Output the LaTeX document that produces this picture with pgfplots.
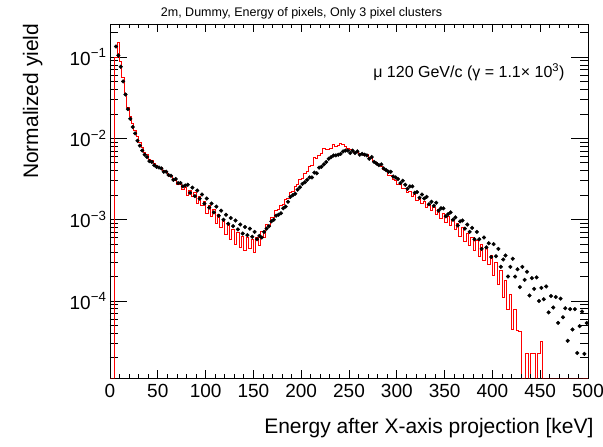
\documentclass[border=0pt]{standalone}
\usepackage{fontspec}
\setmainfont{Liberation Sans}
\usepackage{pgfplots}
\pgfplotsset{compat=1.18}
\begin{document}
\begin{tikzpicture}
\path[use as bounding box] (-110bp,-69bp) rectangle (493bp,378bp);
% axis with data and y ticks
\begin{axis}[
  at={(0,0)}, anchor=south west,
  scale only axis, width=478bp, height=354bp,
  xmin=0, xmax=500, ymode=log, ymin=1.13e-5, ymax=0.255,
  xtick=\empty,
  ytick={1e-4,1e-3,1e-2,1e-1},
  yticklabels={10\textsuperscript{−4},10\textsuperscript{−3},10\textsuperscript{−2},10\textsuperscript{−1}},
  minor ytick={2e-5,3e-5,4e-5,5e-5,6e-5,7e-5,8e-5,9e-5,2e-4,3e-4,4e-4,5e-4,6e-4,7e-4,8e-4,9e-4,2e-3,3e-3,4e-3,5e-3,6e-3,7e-3,8e-3,9e-3,2e-2,3e-2,4e-2,5e-2,6e-2,7e-2,8e-2,9e-2,0.2},
  major tick length=17bp, minor tick length=8bp,
  tick style={black, line width=0.8bp},
  axis line style={line width=0.8bp},
  yticklabel style={font=\fontsize{19bp}{22bp}\selectfont},
  clip mode=individual,
]
\addplot[red, line width=0.9bp, const plot mark left] coordinates {
(0,1.13e-5) (2.5,1.13e-5) (5,0.100) (7.5,0.151) (10,0.0891) (12.5,0.0562) (15,0.0355) (17.5,0.0240) (20,0.0186) (22.5,0.0151)
(25,0.0126) (27.5,0.0105) (30,0.00891) (32.5,0.00776) (35,0.00676) (37.5,0.00631) (40,0.00550) (42.5,0.00537) (45,0.00490) (47.5,0.00468)
(50,0.00437) (52.5,0.00437) (55,0.00398) (57.5,0.00389) (60,0.00355) (62.5,0.00339) (65,0.00309) (67.5,0.00302) (70,0.00269) (72.5,0.00282)
(75,0.00234) (77.5,0.00251) (80,0.00200) (82.5,0.00229) (85,0.00191) (87.5,0.00219) (90,0.00158) (92.5,0.00191) (95,0.00148) (97.5,0.00170)
(100,0.00120) (102.5,0.00151) (105,0.00110) (107.5,0.00132) (110,0.000891) (112.5,0.00115) (115,0.000794) (117.5,0.00100) (120,0.000661) (122.5,0.000871)
(125,0.000575) (127.5,0.000759) (130,0.000501) (132.5,0.000692) (135,0.000457) (137.5,0.000631) (140,0.000417) (142.5,0.000603) (145,0.000437) (147.5,0.000575)
(150,0.000398) (152.5,0.000603) (155,0.000479) (157.5,0.000708) (160,0.000603) (162.5,0.000871) (165,0.000851) (167.5,0.00107) (170,0.00107) (172.5,0.00129)
(175,0.00132) (177.5,0.00151) (180,0.00155) (182.5,0.00178) (185,0.00182) (187.5,0.00214) (190,0.00224) (192.5,0.00257) (195,0.00269) (197.5,0.00309)
(200,0.00324) (202.5,0.00372) (205,0.00389) (207.5,0.00447) (210,0.00468) (212.5,0.00575) (215,0.00562) (217.5,0.00617) (220,0.00661) (222.5,0.00759)
(225,0.00724) (227.5,0.00741) (230,0.00759) (232.5,0.00851) (235,0.00794) (237.5,0.00813) (240,0.00871) (242.5,0.00832) (245,0.00794) (247.5,0.00759)
(250,0.00724) (252.5,0.00708) (255,0.00676) (257.5,0.00692) (260,0.00646) (262.5,0.00661) (265,0.00617) (267.5,0.00631) (270,0.00575) (272.5,0.00575)
(275,0.00525) (277.5,0.00501) (280,0.00468) (282.5,0.00457) (285,0.00417) (287.5,0.00398) (290,0.00355) (292.5,0.00347) (295,0.00309) (297.5,0.00302)
(300,0.00269) (302.5,0.00269) (305,0.00240) (307.5,0.00245) (310,0.00219) (312.5,0.00224) (315,0.00195) (317.5,0.00204) (320,0.00174) (322.5,0.00182)
(325,0.00158) (327.5,0.00166) (330,0.00141) (332.5,0.00155) (335,0.00129) (337.5,0.00141) (340,0.00117) (342.5,0.00132) (345,0.00105) (347.5,0.00120)
(350,0.000933) (352.5,0.00110) (355,0.000851) (357.5,0.00100) (360,0.000759) (362.5,0.000891) (365,0.000631) (367.5,0.000794) (370,0.000537) (372.5,0.000676)
(375,0.000479) (377.5,0.000603) (380,0.000417) (382.5,0.000550) (385,0.000355) (387.5,0.000501) (390,0.000316) (392.5,0.000437) (395,0.000282) (397.5,0.000363)
(400,0.000209) (402.5,0.000302) (405,0.000158) (407.5,0.000240) (410,0.000112) (412.5,0.000178) (415,0.0000794) (417.5,0.000120) (420,0.0000447) (422.5,0.0000794)
(425,0.0000437) (427.5,0.0000427) (430,1.13e-5) (432.5,1.13e-5) (435,0.0000224) (437.5,1.13e-5) (440,0.0000224) (442.5,0.0000224) (445,1.13e-5) (447.5,0.0000224)
(450,0.0000316) (452.5,1.13e-5) (455,1.13e-5) (460,1.13e-5) (470,1.13e-5) (480,1.13e-5) (490,1.13e-5) (500,1.13e-5)
};
\addplot[only marks, mark=*, mark size=1.85bp, black] coordinates {
(6.25,0.135) (8.75,0.105) (11.25,0.0759) (13.75,0.0501) (16.25,0.0347) (18.75,0.0229) (21.25,0.0174) (23.75,0.0138) (26.25,0.0115) (28.75,0.00933)
(31.25,0.00813) (33.75,0.00708) (36.25,0.00631) (38.75,0.00589) (41.25,0.00525) (43.75,0.00513) (46.25,0.00468) (48.75,0.00447) (51.25,0.00437) (53.75,0.00427)
(56.25,0.00389) (58.75,0.00389) (61.25,0.00355) (63.75,0.00347) (66.25,0.00309) (68.75,0.00316) (71.25,0.00282) (73.75,0.00282) (76.25,0.00257) (78.75,0.00263)
(81.25,0.00269) (83.75,0.00214) (86.25,0.00248) (88.75,0.00195) (91.25,0.00229) (93.75,0.00182) (96.25,0.00204) (98.75,0.00158) (101.25,0.00182) (103.75,0.00141)
(106.25,0.00158) (108.75,0.00123) (111.25,0.00145) (113.75,0.00112) (116.25,0.00129) (118.75,0.00100) (121.25,0.00115) (123.75,0.000891) (126.25,0.00105) (128.75,0.000832)
(131.25,0.000977) (133.75,0.000759) (136.25,0.000871) (138.75,0.000676) (141.25,0.000813) (143.75,0.000646) (146.25,0.000776) (148.75,0.000617) (151.25,0.000708) (153.75,0.000575)
(156.25,0.000631) (158.75,0.000603) (161.25,0.000708) (163.75,0.000776) (166.25,0.000832) (168.75,0.000955) (171.25,0.00100) (173.75,0.00112) (176.25,0.00115) (178.75,0.00120)
(181.25,0.00138) (183.75,0.00145) (186.25,0.00166) (188.75,0.00191) (191.25,0.00200) (193.75,0.00209) (196.25,0.00234) (198.75,0.00251) (201.25,0.00275) (203.75,0.00288)
(206.25,0.00309) (208.75,0.00331) (211.25,0.00331) (213.75,0.00380) (216.25,0.00372) (218.75,0.00437) (221.25,0.00447) (223.75,0.00479) (226.25,0.00513) (228.75,0.00562)
(231.25,0.00589) (233.75,0.00617) (236.25,0.00617) (238.75,0.00631) (241.25,0.00646) (243.75,0.00692) (246.25,0.00708) (248.75,0.00708) (251.25,0.00661) (253.75,0.00708)
(256.25,0.00661) (258.75,0.00692) (261.25,0.00631) (263.75,0.00646) (266.25,0.00631) (268.75,0.00617) (271.25,0.00562) (273.75,0.00589) (276.25,0.00513) (278.75,0.00490)
(281.25,0.00468) (283.75,0.00479) (286.25,0.00427) (288.75,0.00407) (291.25,0.00389) (293.75,0.00389) (296.25,0.00339) (298.75,0.00331) (301.25,0.00316) (303.75,0.00282)
(306.25,0.00302) (308.75,0.00269) (311.25,0.00240) (313.75,0.00257) (316.25,0.00257) (318.75,0.00214) (321.25,0.00219) (323.75,0.00186) (326.25,0.00204) (328.75,0.00182)
(331.25,0.00191) (333.75,0.00155) (336.25,0.00166) (338.75,0.00148) (341.25,0.00162) (343.75,0.00129) (346.25,0.00138) (348.75,0.00138) (351.25,0.00110) (353.75,0.00117)
(356.25,0.00123) (358.75,0.00100) (361.25,0.00107) (363.75,0.000851) (366.25,0.000955) (368.75,0.000977) (371.25,0.000776) (373.75,0.000871) (376.25,0.000708) (378.75,0.000794)
(381.25,0.000575) (383.75,0.000708) (386.25,0.000575) (388.75,0.000437) (391.25,0.000603) (393.75,0.000457) (396.25,0.000513) (398.75,0.000347) (401.25,0.000501) (403.75,0.000355)
(406.25,0.000437) (408.75,0.000263) (411.25,0.000324) (413.75,0.000363) (416.25,0.000200) (418.75,0.000263) (421.25,0.000331) (423.75,0.000200) (426.25,0.000245) (428.75,0.000148)
(431.25,0.000263) (433.75,0.000182) (436.25,0.000229) (438.75,0.000117) (441.25,0.000191) (443.75,0.000141) (446.25,0.000195) (448.75,0.000100) (451.25,0.000145) (453.75,0.000105)
(456.25,0.000151) (458.75,0.0000724) (461.25,0.000115) (463.75,0.0000832) (466.25,0.000112) (468.75,0.0000537) (471.25,0.000107) (473.75,0.0000631) (476.25,0.0000813) (478.75,0.0000324)
(481.25,0.0000794) (483.75,0.0000447) (486.25,0.0000794) (488.75,0.0000229) (491.25,0.0000490) (493.75,0.0000741) (496.25,0.0000224) (498.75,0.0000537)
};
\node[anchor=base, font=\fontsize{12.5bp}{15bp}\selectfont] at (rel axis cs:0.4006,1.0226) {2m, Dummy, Energy of pixels, Only 3 pixel clusters};
\node[anchor=base east, font=\fontsize{16bp}{19bp}\selectfont] at (rel axis cs:0.9582,0.8475) {μ 120 GeV/c (γ = 1.1× 10\textsuperscript{3})};
\node[anchor=base east, rotate=90, font=\fontsize{21bp}{25bp}\selectfont] at (rel axis cs:-0.1506,1.011) {Normalized yield};
\node[anchor=base east, font=\fontsize{21bp}{25bp}\selectfont] at (rel axis cs:1.0188,-0.1554) {Energy after X-axis projection [keV]};
\end{axis}
% axis for x ticks
\begin{axis}[
  at={(0,0)}, anchor=south west,
  scale only axis, width=478bp, height=354bp,
  xmin=0, xmax=500, ymin=0, ymax=1,
  hide y axis,
  xtick={0,50,...,500},
  minor xtick={10,20,30,40,60,70,80,90,110,120,130,140,160,170,180,190,210,220,230,240,260,270,280,290,310,320,330,340,360,370,380,390,410,420,430,440,460,470,480,490},
  major tick length=8bp, minor tick length=4bp,
  tick style={black, line width=0.8bp},
  axis line style={line width=0.8bp},
  xticklabel style={font=\fontsize{19bp}{22bp}\selectfont, /pgf/number format/assume math mode=true, anchor=base, yshift=-19bp},
]
\end{axis}
\end{tikzpicture}
\end{document}
